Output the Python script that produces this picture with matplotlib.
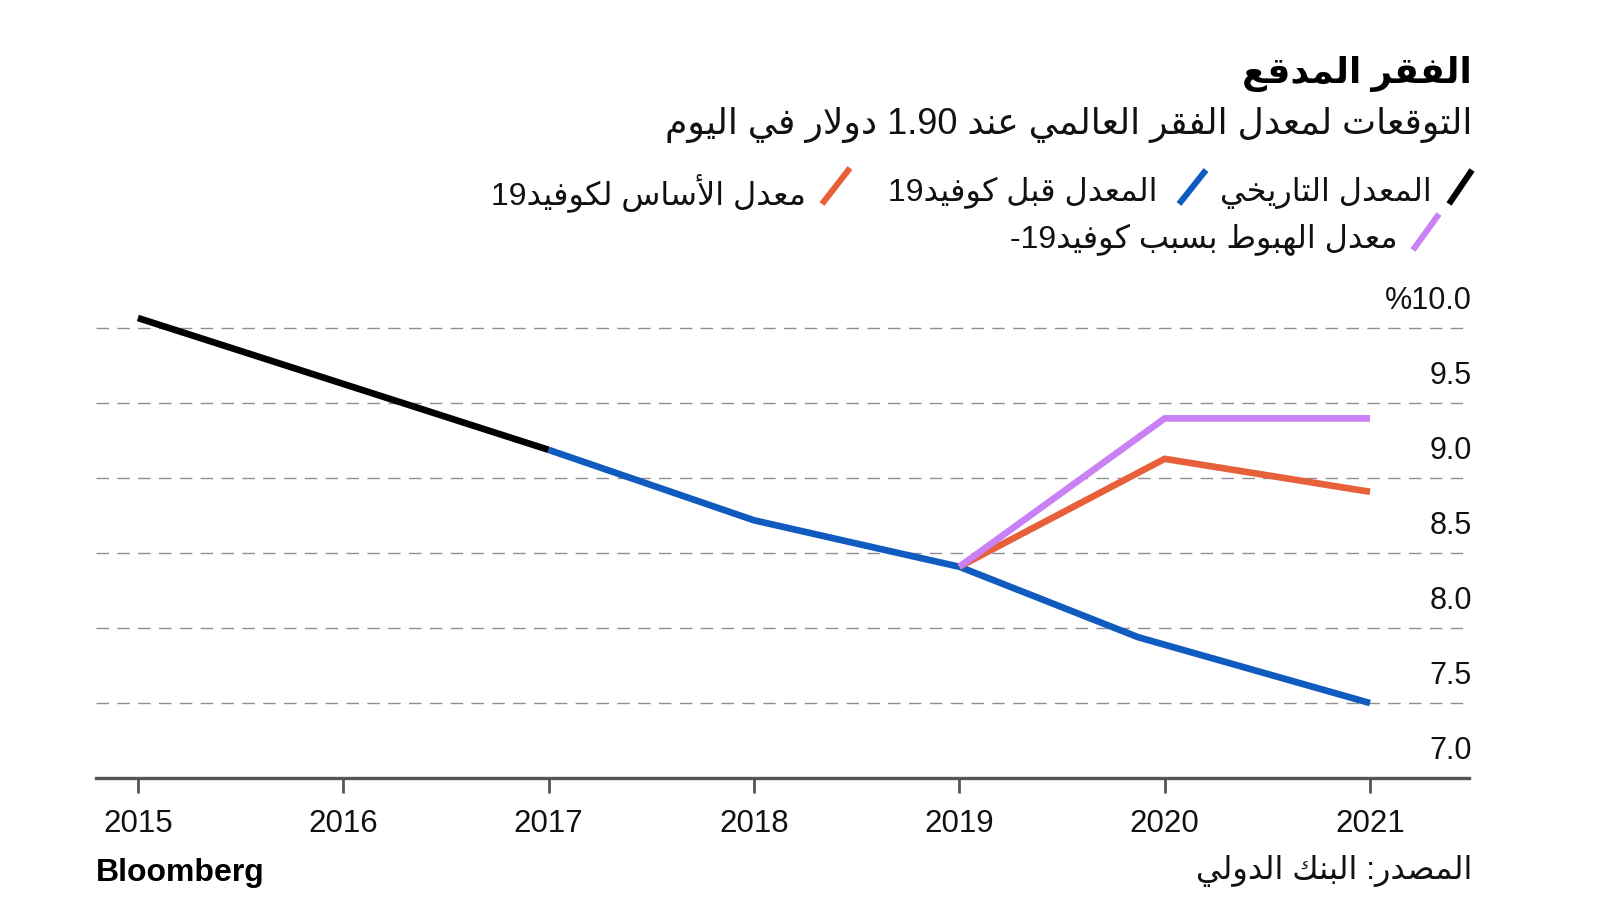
import re
import matplotlib
matplotlib.use('Agg')
import matplotlib.pyplot as plt
from matplotlib import transforms
from matplotlib.lines import Line2D

plt.rcParams['font.family'] = ['Liberation Sans', 'DejaVu Sans']

# ---- data ----
years = [2015, 2016, 2017, 2018, 2019, 2020, 2021]
hist_x = [2015, 2016, 2017]
hist_y = [10.07, 9.63, 9.19]
pre_x = [2017, 2018, 2018.45, 2018.74, 2019, 2019.87, 2021]
pre_y = [9.19, 8.72, 8.58, 8.49, 8.41, 7.94, 7.50]
base_x = [2019, 2020, 2021]
base_y = [8.41, 9.13, 8.91]
down_x = [2019, 2020, 2021]
down_y = [8.41, 9.40, 9.40]
yticks = [7.0, 7.5, 8.0, 8.5, 9.0, 9.5, 10.0]
ytick_labels = ['7.0', '7.5', '8.0', '8.5', '9.0', '9.5', '%10.0']

title = 'الفقر المدقع'
subtitle = 'التوقعات لمعدل الفقر العالمي عند 1.90 دولار في اليوم'
leg_hist = 'المعدل التاريخي'
leg_pre = 'المعدل قبل كوفيد19'
leg_base = 'معدل الأساس لكوفيد19'
leg_down = 'معدل الهبوط بسبب كوفيد19-'
source = 'المصدر: البنك الدولي'

BLACK = '#000000'
BLUE = '#0f5bbf'
ORANGE = '#e8603a'
PURPLE = '#c981f5'

# ---- minimal arabic shaping (matplotlib has no RTL layout) ----
letters = [chr(c) for c in range(0x621, 0x63B)] + [chr(c) for c in range(0x641, 0x64B)]
counts = [1, 2, 2, 2, 2, 4, 2, 4, 2, 4, 4, 4, 4, 4, 2, 2, 2, 2, 4, 4, 4, 4, 4, 4, 4, 4,
          4, 4, 4, 4, 4, 4, 4, 2, 2, 4]
FORMS = {}
base = 0xFE80
for ch, n in zip(letters, counts):
    FORMS[ch] = (base, n)
    base += n
LAM_ALEF = {'\u0622': 0xFEF5, '\u0623': 0xFEF7, '\u0625': 0xFEF9, '\u0627': 0xFEFB}


def dual(ch):
    return ch in FORMS and FORMS[ch][1] == 4


def shape(s):
    out = []
    i = 0
    while i < len(s):
        c = s[i]
        if c not in FORMS:
            out.append(c)
            i += 1
            continue
        prev_j = i > 0 and dual(s[i - 1])
        if c == '\u0644' and i + 1 < len(s) and s[i + 1] in LAM_ALEF:
            out.append(chr(LAM_ALEF[s[i + 1]] + (1 if prev_j else 0)))
            i += 2
            continue
        b, n = FORMS[c]
        next_j = n == 4 and i + 1 < len(s) and s[i + 1] in FORMS
        if n == 1:
            code = b
        elif prev_j and next_j:
            code = b + 3
        elif next_j:
            code = b + 2
        elif prev_j:
            code = b + 1
        else:
            code = b
        out.append(chr(code))
        i += 1
    return ''.join(out)


def ar(text):
    shaped = shape(text)
    runs = re.findall(r'[0-9A-Za-z][0-9A-Za-z.]*|[^0-9A-Za-z]+', shaped)
    return ''.join(r if (r[0].isascii() and r[0].isalnum()) else r[::-1]
                   for r in reversed(runs))


# ---- figure ----
W, H = 1600, 900
fig = plt.figure(figsize=(16, 9), dpi=100)
ax = fig.add_axes([96 / W, 1 - 778 / H, (1469 - 96) / W, (778 - 300) / H])

LW = 4.8
ax.plot(hist_x, hist_y, color=BLACK, lw=LW, solid_capstyle='butt', zorder=3)
ax.plot(pre_x, pre_y, color=BLUE, lw=LW, solid_capstyle='butt', zorder=3)
ax.plot(base_x, base_y, color=ORANGE, lw=LW, solid_capstyle='butt', zorder=4)
ax.plot(down_x, down_y, color=PURPLE, lw=LW, solid_capstyle='butt', zorder=5)

ax.set_xlim(2014.796, 2021.482)
ax.set_ylim(7.0, 10.19)
ax.set_xticks(years)
ax.set_xticklabels([str(y) for y in years], fontsize=22.5)
ax.tick_params(axis='x', length=11, width=2, color='#555555', pad=11, labelcolor='#111111')
ax.set_yticks(yticks)
ax.tick_params(axis='y', length=0, labelleft=False)
ax.yaxis.grid(True, color='#8f8f8f', lw=1.0, linestyle=(0, (9, 6)))
for sp in ['top', 'right', 'left']:
    ax.spines[sp].set_visible(False)
ax.spines['bottom'].set_color('#555555')
ax.spines['bottom'].set_linewidth(2.4)
ax.set_axisbelow(True)

lab_tr = transforms.offset_copy(ax.get_yaxis_transform(), fig=fig, x=3, y=27, units='dots')
for v, lab in zip(yticks, ytick_labels):
    ax.text(1.0, v, lab, transform=lab_tr, ha='right', va='center',
            fontsize=22, color='#111111')

# ---- header ----
def px(x, y):
    return x / W, 1 - y / H


fig.text(*px(1472, 74), ar(title), ha='right', va='center', fontsize=26,
         fontweight='bold', color='#000000')
fig.text(*px(1472, 125), ar(subtitle), ha='right', va='center', fontsize=26,
         color='#111111')

legend_items = [
    (BLACK, leg_hist, (1449, 204, 1472, 170), 1432, 193),
    (BLUE, leg_pre, (1179, 204, 1206, 170), 1158, 193),
    (ORANGE, leg_base, (822, 204, 850, 168), 806, 193),
    (PURPLE, leg_down, (1413, 250, 1439, 214), 1398, 240),
]
for col, lab, (x0, y0, x1, y1), tx, ty in legend_items:
    a, b = px(x0, y0)
    c, d = px(x1, y1)
    fig.add_artist(Line2D([a, c], [b, d], transform=fig.transFigure, color=col,
                          lw=4.4, solid_capstyle='butt'))
    fig.text(*px(tx, ty), ar(lab), ha='right', va='center', fontsize=23,
             color='#111111')

# ---- footer ----
fig.text(*px(96, 873), 'Bloomberg', ha='left', va='center', fontsize=23,
         fontweight='bold', color='#000000')
fig.text(*px(1472, 871), ar(source), ha='right', va='center', fontsize=23,
         color='#111111')

fig.savefig('out.png', dpi=100, facecolor='white')
